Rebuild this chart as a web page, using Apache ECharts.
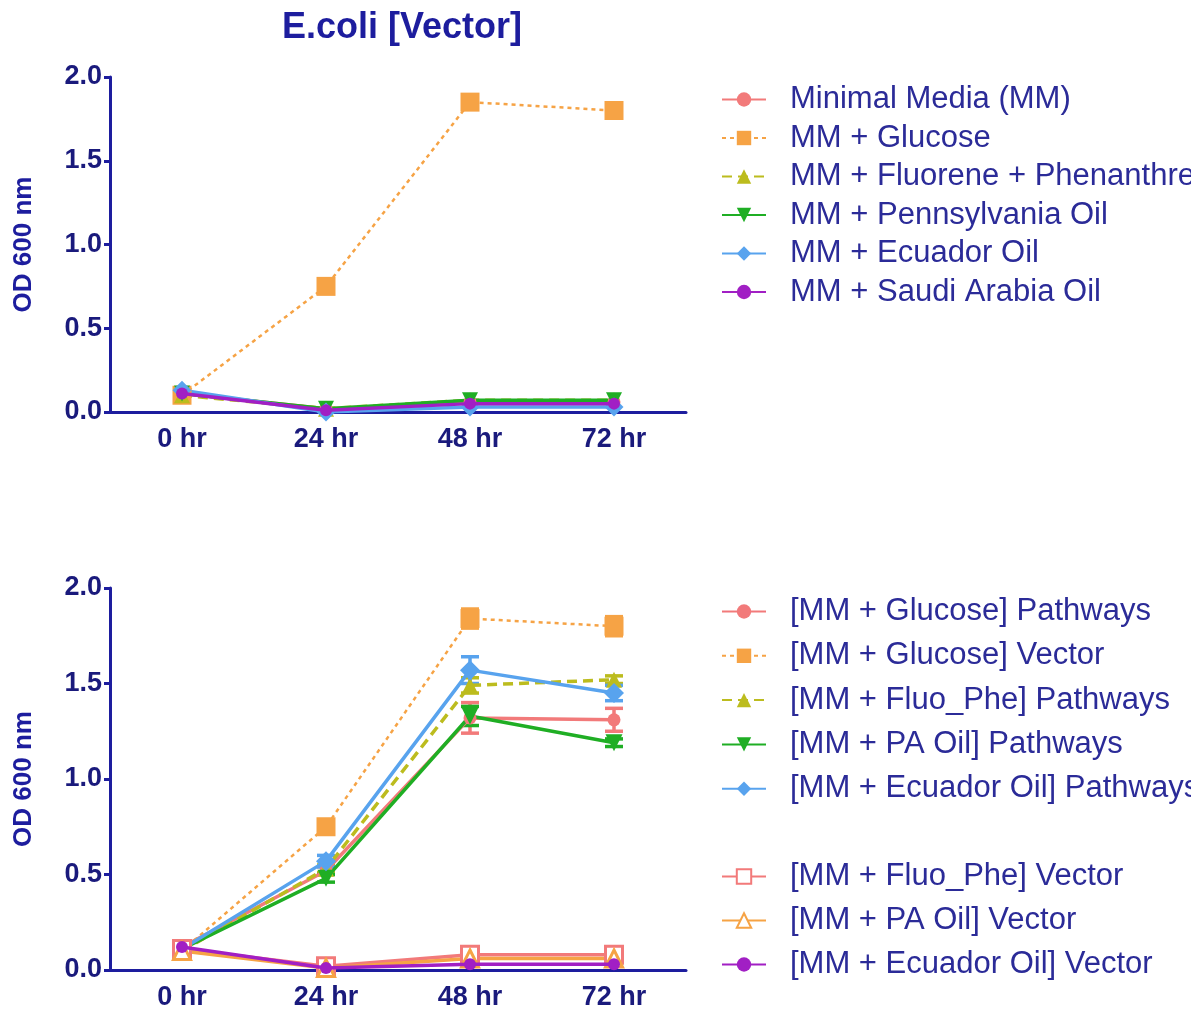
<!DOCTYPE html>
<html>
<head>
<meta charset="utf-8">
<script src="https://cdn.jsdelivr.net/npm/echarts@6/dist/echarts.min.js"></script>
<style>
html,body{margin:0;padding:0;background:#fff;}
#chart{width:1191px;height:1014px;}
</style>
</head>
<body>
<div id="chart"></div>
<script>
// ---- data ----
const hours = ['0 hr', '24 hr', '48 hr', '72 hr'];
const yTicks = [0, 0.5, 1.0, 1.5, 2.0];

// top panel: E.coli [Vector]
const topNames = ['Minimal Media (MM)', 'MM + Glucose', 'MM + Fluorene + Phenanthrene', 'MM + Pennsylvania Oil', 'MM + Ecuador Oil', 'MM + Saudi Arabia Oil'];
const mmOnly = [0.11, 0.02, 0.06, 0.06];
const mmGlucose = [0.10, 0.75, 1.85, 1.80];
const mmGlucoseErr = [0.01, 0.01, 0.04, 0.04];
const mmFluoPhe = [0.10, 0.02, 0.07, 0.07];
const mmPennOil = [0.11, 0.02, 0.07, 0.07];
const mmEcuadorOil = [0.13, 0.00, 0.03, 0.03];
const mmSaudiOil = [0.11, 0.01, 0.05, 0.05];

// bottom panel
const botNamesA = ['[MM + Glucose] Pathways', '[MM + Glucose] Vector', '[MM + Fluo_Phe] Pathways', '[MM + PA Oil] Pathways', '[MM + Ecuador Oil] Pathways'];
const botNamesB = ['[MM + Fluo_Phe] Vector', '[MM + PA Oil] Vector', '[MM + Ecuador Oil] Vector'];
const glucosePath = [0.12, 0.52, 1.32, 1.31];
const glucosePathErr = [0.01, 0.02, 0.08, 0.06];
const glucoseVec = [0.10, 0.75, 1.84, 1.80];
const glucoseVecErr = [0.01, 0.02, 0.05, 0.05];
const fluoPath = [0.10, 0.53, 1.49, 1.52];
const fluoPathErr = [0.01, 0.02, 0.04, 0.02];
const paPath = [0.11, 0.48, 1.33, 1.19];
const paPathErr = [0.01, 0.02, 0.05, 0.02];
const ecuPath = [0.11, 0.57, 1.57, 1.45];
const ecuPathErr = [0.01, 0.03, 0.07, 0.04];
const fluoVec = [0.11, 0.02, 0.08, 0.08];
const fluoVecErr = [0.01, 0.01, 0.02, 0.02];
const paVec = [0.10, 0.01, 0.06, 0.06];
const ecuVec = [0.12, 0.01, 0.03, 0.03];

// ---- styles ----
const C = {
  salmon: '#f27a7a', orange: '#f6a345', olive: '#bcbc1e', green: '#1fae24',
  blue: '#58a3ee', purple: '#a11fc4'
};
const NAVY = '#1d1d9e';
const LABEL = '#1a1a7c';
const FONT = '"Liberation Sans", Arial, sans-serif';

function lineSeries(name, data, color, symbol, opts) {
  opts = opts || {};
  return {
    type: 'line', name: name, data: data,
    xAxisIndex: opts.grid, yAxisIndex: opts.grid,
    symbol: symbol, symbolSize: opts.size || 14,
    symbolRotate: opts.rotate || 0,
    lineStyle: { color: color, width: opts.width || 3.5, type: opts.dash || 'solid' },
    itemStyle: opts.hollow ? { color: '#fff', borderColor: color, borderWidth: 3 } : { color: color, borderWidth: 0 },
    emphasis: { disabled: true },
    animation: false,
    z: opts.z || 3
  };
}

function errSeries(values, errs, color, grid) {
  return {
    type: 'custom', xAxisIndex: grid, yAxisIndex: grid, z: 2, animation: false,
    silent: true,
    data: values.map((v, i) => [i, v, errs[i]]),
    renderItem: function (params, api) {
      const x = api.value(0), v = api.value(1), e = api.value(2);
      const t = api.coord([x, v + e]);
      const b = api.coord([x, v - e]);
      const w = 9;
      const st = { stroke: color, lineWidth: 3.5, fill: null };
      return {
        type: 'group', children: [
          { type: 'line', shape: { x1: t[0], y1: t[1], x2: b[0], y2: b[1] }, style: st },
          { type: 'line', shape: { x1: t[0] - w, y1: t[1], x2: t[0] + w, y2: t[1] }, style: st },
          { type: 'line', shape: { x1: b[0] - w, y1: b[1], x2: b[0] + w, y2: b[1] }, style: st }
        ]
      };
    }
  };
}

function xAxis(grid) {
  return {
    type: 'category', gridIndex: grid, data: hours, boundaryGap: true,
    axisLine: { lineStyle: { color: NAVY, width: 3 } },
    axisTick: { alignWithLabel: true, length: 9, lineStyle: { color: LABEL, width: 3 } },
    axisLabel: { color: LABEL, fontSize: 27, fontWeight: 'bold', fontFamily: FONT, margin: 14 },
    splitLine: { show: false }
  };
}
function yAxis(grid) {
  return {
    type: 'value', gridIndex: grid, min: yTicks[0], max: yTicks[yTicks.length - 1], interval: 0.5,
    name: 'OD 600 nm', nameLocation: 'middle', nameGap: 73,
    nameTextStyle: { color: NAVY, fontSize: 26, fontWeight: 'bold', fontFamily: FONT },
    axisLine: { show: true, lineStyle: { color: NAVY, width: 3 } },
    axisTick: { show: true, length: 6, lineStyle: { color: NAVY, width: 3 } },
    axisLabel: { color: LABEL, fontSize: 27, fontWeight: 'bold', fontFamily: FONT, margin: 8,
      formatter: v => v.toFixed(1) },
    splitLine: { show: false }
  };
}

const legendText = { color: '#2b2b98', fontSize: 31, fontFamily: FONT, lineHeight: 30, padding: [0, 0, 0, 19] };
function legend(names, top, gap) {
  return {
    orient: 'vertical', left: 721, top: top, data: names,
    itemWidth: 44, itemHeight: 18, itemGap: gap,
    textStyle: legendText, selectedMode: false, padding: 0
  };
}

const option = {
  backgroundColor: '#fff',
  animation: false,
  title: {
    text: 'E.coli [Vector]', left: 397, top: 5, textAlign: 'center',
    textStyle: { color: NAVY, fontSize: 36, fontWeight: 'bold', fontFamily: FONT }
  },
  grid: [
    { left: 110, top: 77, width: 576, height: 335 },
    { left: 110, top: 588, width: 576, height: 382 }
  ],
  xAxis: [xAxis(0), xAxis(1)],
  yAxis: [yAxis(0), yAxis(1)],
  legend: [
    legend(topNames, 84, 7.5),
    legend(botNamesA, 596, 13.3),
    legend(botNamesB, 861, 13)
  ],
  series: [
    // top
    errSeries(mmGlucose, mmGlucoseErr, C.orange, 0),
    lineSeries(topNames[0], mmOnly, C.salmon, 'circle', { grid: 0, size: 13 }),
    lineSeries(topNames[1], mmGlucose, C.orange, 'rect', { grid: 0, size: 19, width: 2.5, dash: [4, 4] }),
    lineSeries(topNames[2], mmFluoPhe, C.olive, 'triangle', { grid: 0, size: 16, dash: [10, 6] }),
    lineSeries(topNames[3], mmPennOil, C.green, 'triangle', { grid: 0, size: 16, rotate: 180 }),
    lineSeries(topNames[4], mmEcuadorOil, C.blue, 'diamond', { grid: 0, size: 19 }),
    lineSeries(topNames[5], mmSaudiOil, C.purple, 'circle', { grid: 0, size: 12, z: 5 }),
    // bottom
    errSeries(glucosePath, glucosePathErr, C.salmon, 1),
    errSeries(glucoseVec, glucoseVecErr, C.orange, 1),
    errSeries(fluoPath, fluoPathErr, C.olive, 1),
    errSeries(paPath, paPathErr, C.green, 1),
    errSeries(ecuPath, ecuPathErr, C.blue, 1),
    errSeries(fluoVec, fluoVecErr, C.salmon, 1),
    lineSeries(botNamesA[0], glucosePath, C.salmon, 'circle', { grid: 1, size: 13 }),
    lineSeries(botNamesA[1], glucoseVec, C.orange, 'rect', { grid: 1, size: 19, width: 2.5, dash: [4, 4] }),
    lineSeries(botNamesA[2], fluoPath, C.olive, 'triangle', { grid: 1, size: 16, dash: [10, 6] }),
    lineSeries(botNamesA[3], paPath, C.green, 'triangle', { grid: 1, size: 17, rotate: 180 }),
    lineSeries(botNamesA[4], ecuPath, C.blue, 'diamond', { grid: 1, size: 20 }),
    lineSeries(botNamesB[0], fluoVec, C.salmon, 'rect', { grid: 1, size: 17, hollow: true }),
    lineSeries(botNamesB[1], paVec, C.orange, 'triangle', { grid: 1, size: 17, hollow: true }),
    lineSeries(botNamesB[2], ecuVec, C.purple, 'circle', { grid: 1, size: 12, z: 5 })
  ]
};

const chart = echarts.init(document.getElementById('chart'), null, { renderer: 'canvas' });
chart.setOption(option);
</script>
</body>
</html>
